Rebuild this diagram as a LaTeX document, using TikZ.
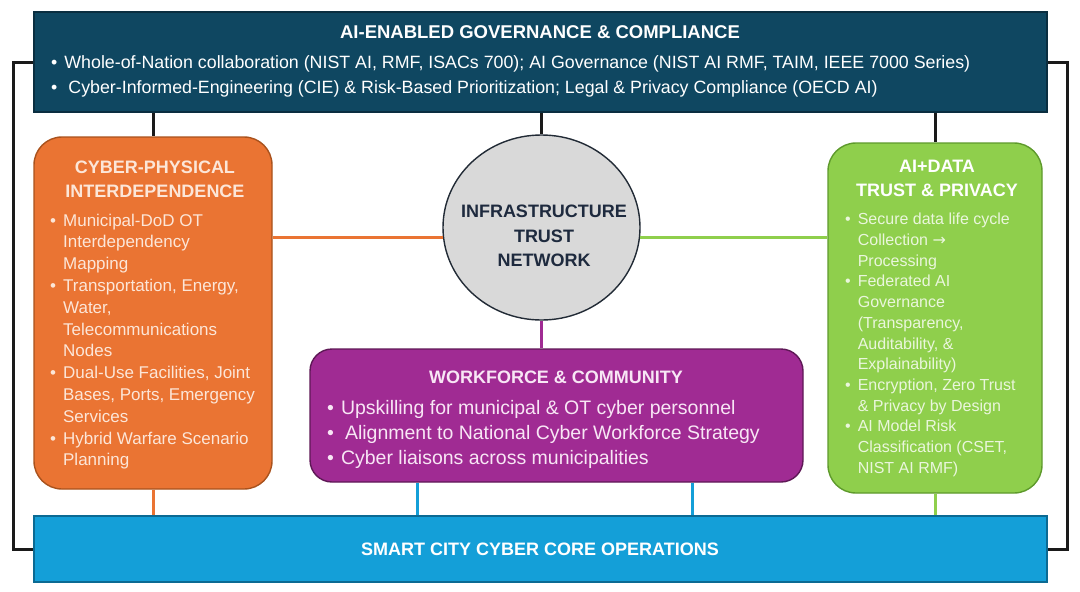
\documentclass[tikz,border=0pt]{standalone}
\usepackage{fontspec}
\setmainfont{Liberation Sans}
\newfontfamily\arwfont{DejaVu Sans}
\usetikzlibrary{shapes.geometric,positioning,calc}
\definecolor{govfill}{HTML}{0F4761}
\definecolor{govedge}{HTML}{0A2E40}
\definecolor{cpfill}{HTML}{EA7433}
\definecolor{cpedge}{HTML}{A9521D}
\definecolor{cptext}{HTML}{FCE6D8}
\definecolor{dtfill}{HTML}{8FCF4C}
\definecolor{dtedge}{HTML}{5E9A2C}
\definecolor{dttext}{HTML}{EAF6DC}
\definecolor{wkfill}{HTML}{A02B93}
\definecolor{wkedge}{HTML}{5E1856}
\definecolor{wktext}{HTML}{F8E6F5}
\definecolor{corefill}{HTML}{149FD8}
\definecolor{coreedge}{HTML}{0B6A93}
\definecolor{netfill}{HTML}{D9D9D9}
\definecolor{netedge}{HTML}{222B36}
\definecolor{nettext}{HTML}{1E2A3E}
\definecolor{wire}{HTML}{1A1A1A}
\tikzset{
  panel/.style={draw, line width=1.4pt, inner sep=0pt},
  govpanel/.style={panel, fill=govfill, draw=govedge, minimum width=1013pt, minimum height=100pt},
  corepanel/.style={panel, fill=corefill, draw=coreedge, minimum width=1013pt, minimum height=66pt},
  cppanel/.style={panel, fill=cpfill, draw=cpedge, rounded corners=28pt, minimum width=238pt, minimum height=352pt},
  dtpanel/.style={panel, fill=dtfill, draw=dtedge, rounded corners=28pt, minimum width=214pt, minimum height=350pt},
  wkpanel/.style={panel, fill=wkfill, draw=wkedge, rounded corners=22pt, minimum width=493pt, minimum height=133pt},
  hub/.style={panel, ellipse, fill=netfill, draw=netedge, minimum width=197pt, minimum height=185pt},
  head/.style={anchor=base, inner sep=0pt, font=\fontsize{18}{23.5}\selectfont\bfseries},
  items/.style={anchor=base west, inner sep=0pt},
  link/.style={line width=3pt, draw=wire},
}
\newcommand{\blist}[1]{\begin{tabular}[t]{@{}l@{\hspace{7pt}}l@{}}#1\end{tabular}}
\newcommand{\ttl}[1]{\begin{tabular}[t]{@{}c@{}}#1\end{tabular}}

\begin{document}
\begin{tikzpicture}[x=1pt, y=-1pt]
  \fill[white] (0,0) rectangle (1080,592);
  \useasboundingbox (0,0) rectangle (1080,592);
  % panels
  \node[govpanel] (gov) at (540.5,62) {};
  \node[cppanel] (cyber) at (153,313) {};
  \node[hub] (itn) at (541.5,227.5) {};
  \node[dtpanel] (data) at (935,318) {};
  \node[wkpanel] (work) at (556.5,415.5) {};
  \node[corepanel] (core) at (540.5,549) {};
  % texts
  \node[head, text=white, font=\fontsize{18.5}{23.5}\selectfont\bfseries] (govtitle) at (540,38.7)
    {AI-ENABLED GOVERNANCE \& COMPLIANCE};
  \node[items, text=white, font=\fontsize{17.8}{25}\selectfont] (govlist) at (51,68.4) {\blist{
    \textbullet & Whole-of-Nation collaboration (NIST AI, RMF, ISACs 700); AI Governance (NIST AI RMF, TAIM, IEEE 7000 Series)\\
    \textbullet & \hspace{4pt}Cyber-Informed-Engineering (CIE) \& Risk-Based Prioritization; Legal \& Privacy Compliance (OECD AI)}};
  \node[head, text=cptext] (cybertitle) at (155,173.5) {\ttl{CYBER-PHYSICAL\\INTERDEPENDENCE}};
  \node[items, text=cptext, font=\fontsize{17}{21.8}\selectfont] (cyberlist) at (50,226) {\blist{
    \textbullet & Municipal-DoD OT\\ & Interdependency\\ & Mapping\\
    \textbullet & Transportation, Energy,\\ & Water,\\ & Telecommunications\\ & Nodes\\
    \textbullet & Dual-Use Facilities, Joint\\ & Bases, Ports, Emergency\\ & Services\\
    \textbullet & Hybrid Warfare Scenario\\ & Planning}};
  \node[head, text=nettext, font=\fontsize{18}{24.5}\selectfont\bfseries] (itnlabel) at (544,217.5)
    {\ttl{INFRASTRUCTURE\\TRUST\\NETWORK}};
  \node[head, text=white] (datatitle) at (937,172.5) {\ttl{AI+DATA\\TRUST \& PRIVACY}};
  \node[items, text=dttext, font=\fontsize{16}{20.7}\selectfont] (datalist) at (845,224.8) {\blist{
    \textbullet & Secure data life cycle\\ & Collection {\arwfont →}\\ & Processing\\
    \textbullet & Federated AI\\ & Governance\\ & (Transparency,\\ & Auditability, \&\\ & Explainability)\\
    \textbullet & Encryption, Zero Trust\\ & \& Privacy by Design\\
    \textbullet & AI Model Risk\\ & Classification (CSET,\\ & NIST AI RMF)}};
  \node[head, text=wktext] (worktitle) at (556,383.5) {WORKFORCE \& COMMUNITY};
  \node[items, text=wktext, font=\fontsize{19.5}{25}\selectfont] (worklist) at (327,414) {\blist{
    \textbullet & Upskilling for municipal \& OT cyber personnel\\
    \textbullet & \hspace{4pt}Alignment to National Cyber Workforce Strategy\\
    \textbullet & Cyber liaisons across municipalities}};
  \node[head, text=white] (coretitle) at (540,555.5) {SMART CITY CYBER CORE OPERATIONS};
  % connectors
  \draw[link] (gov.south -| cyber.north) -- (cyber.north);
  \draw[link] (itn.north |- gov.south) -- (itn.north);
  \draw[link] (gov.south -| data.north) -- (data.north);
  \draw[link] (gov.west) -- ++(-20,0) |- (core.west);
  \draw[link] (gov.east) -- ++(20,0) |- (core.east);
  \draw[link, draw=cpfill] (cyber.east |- itn.186) -- (itn.186);
  \draw[link, draw=dtfill] (itn.354) -- (data.west |- itn.354);
  \draw[link, draw=wkfill] (itn.south) -- (itn.south |- work.north);
  \draw[link, draw=cpfill] (cyber.south) -- (cyber.south |- core.north);
  \draw[link, draw=corefill] ([xshift=-139.5pt]work.south) -- ([xshift=-139.5pt]work.south |- core.north);
  \draw[link, draw=corefill] ([xshift=135.5pt]work.south) -- ([xshift=135.5pt]work.south |- core.north);
  \draw[link, draw=dtfill] (data.south) -- (data.south |- core.north);
\end{tikzpicture}
\end{document}
